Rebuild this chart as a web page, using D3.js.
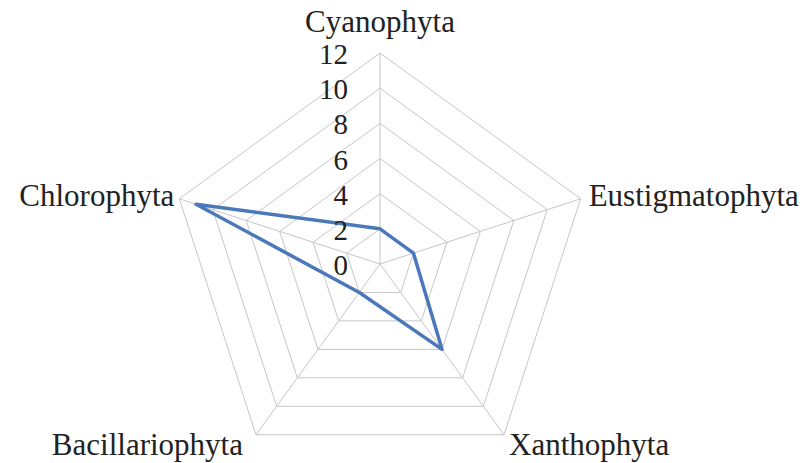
<!DOCTYPE html>
<meta charset="utf-8">
<style>
  body { margin: 0; background: #fff; }
  .grid path, .grid line { fill: none; stroke: #c6c6c6; stroke-width: 1px; }
  .series { fill: none; stroke: #4a78ba; stroke-width: 3.5px; stroke-linejoin: round; }
  text { font-family: "Liberation Serif", "Times New Roman", serif; fill: #222; }
</style>
<svg width="806" height="463"></svg>
<script src="https://cdn.jsdelivr.net/npm/d3@7/dist/d3.min.js"></script>
<script>
  var categories = ["Cyanophyta", "Eustigmatophyta", "Xanthophyta", "Bacillariophyta", "Chlorophyta"];
  var values = [2, 2, 6, 2, 11];
  var ticks = [0, 2, 4, 6, 8, 10, 12];

  var svg = d3.select("svg"),
    cx = 380,
    cy = 264;

  var r = d3.scaleLinear().domain([0, 12]).range([0, 211]);
  var angle = d3.scaleLinear().domain([0, categories.length]).range([0, 2 * Math.PI]);

  function pt(i, v) {
    var a = angle(i);
    return [cx + r(v) * Math.sin(a), cy - r(v) * Math.cos(a)];
  }

  var grid = svg.append("g").attr("class", "grid");

  // rings
  grid.selectAll("path")
    .data(ticks.slice(1))
    .enter().append("path")
    .attr("d", function(t) {
      return d3.line()(categories.map(function(c, i) { return pt(i, t); })) + "Z";
    });

  // spokes
  grid.selectAll("line")
    .data(categories)
    .enter().append("line")
    .attr("x1", cx)
    .attr("y1", cy)
    .attr("x2", function(d, i) { return pt(i, 12)[0]; })
    .attr("y2", function(d, i) { return pt(i, 12)[1]; });

  // data line
  svg.append("path")
    .attr("class", "series")
    .attr("d", d3.line()(values.map(function(v, i) { return pt(i, v); })) + "Z");

  // tick labels
  svg.append("g")
    .selectAll("text")
    .data(ticks)
    .enter().append("text")
    .attr("x", cx - 32)
    .attr("y", function(t) { return cy - r(t) + 11; })
    .attr("text-anchor", "end")
    .style("font-size", "29px")
    .text(function(t) { return t; });

  // category labels
  var labelPos = [
    { dx: 0, dy: -21, anchor: "middle" },
    { dx: 8, dy: 7, anchor: "start" },
    { dx: 5, dy: 20, anchor: "start" },
    { dx: -13, dy: 20, anchor: "end" },
    { dx: -5, dy: 7, anchor: "end" }
  ];

  svg.append("g")
    .selectAll("text")
    .data(categories)
    .enter().append("text")
    .attr("x", function(d, i) { return pt(i, 12)[0] + labelPos[i].dx; })
    .attr("y", function(d, i) { return pt(i, 12)[1] + labelPos[i].dy; })
    .attr("text-anchor", function(d, i) { return labelPos[i].anchor; })
    .style("font-size", "31px")
    .text(function(d) { return d; });
</script>
